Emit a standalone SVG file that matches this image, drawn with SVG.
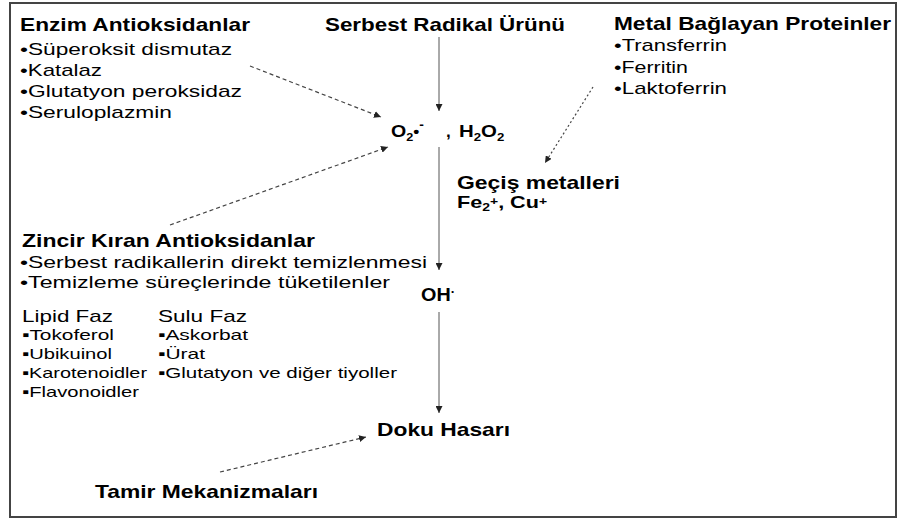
<svg xmlns="http://www.w3.org/2000/svg" width="897" height="521" viewBox="0 0 897 521">
<style>
text{font-family:"Liberation Sans",Arial,sans-serif;fill:#000}
.h{font-weight:bold;font-size:19px}
.t{font-size:17px}
.s{font-size:15px}
.c{stroke:#555;stroke-width:1;fill:none}
.d{stroke:#444;stroke-width:1.2;fill:none;stroke-dasharray:4 3}
.o{stroke:#444;stroke-width:1.2;fill:none;stroke-dasharray:2 2.5}
</style>
<defs>
<marker id="ah" viewBox="0 0 10 10" refX="10" refY="5" markerWidth="7" markerHeight="7" markerUnits="userSpaceOnUse" orient="auto">
<path d="M0,0 L10,5 L0,10 z" fill="#222"/>
</marker>
</defs>
<rect x="10" y="3" width="886" height="514" fill="#fff" stroke="#444" stroke-width="2"/>
<g id="connectors">
<line class="c" x1="439" y1="37" x2="439" y2="111" marker-end="url(#ah)"/>
<line class="c" x1="439" y1="147" x2="439" y2="270" marker-end="url(#ah)"/>
<line class="c" x1="439" y1="312" x2="439" y2="413" marker-end="url(#ah)"/>
<line class="d" x1="250" y1="66" x2="381" y2="117" marker-end="url(#ah)"/>
<line class="d" x1="170" y1="225" x2="388" y2="147" marker-end="url(#ah)"/>
<line class="o" x1="593" y1="87" x2="545" y2="163" marker-end="url(#ah)"/>
<line class="d" x1="220" y1="472" x2="366" y2="437" marker-end="url(#ah)"/>
</g>
<g id="enzim">
<text class="h" x="20" y="31" textLength="230" lengthAdjust="spacingAndGlyphs">Enzim Antioksidanlar</text>
<text class="t" x="20" y="55" textLength="212" lengthAdjust="spacingAndGlyphs">•Süperoksit dismutaz</text>
<text class="t" x="20" y="76" textLength="82" lengthAdjust="spacingAndGlyphs">•Katalaz</text>
<text class="t" x="20" y="97" textLength="222" lengthAdjust="spacingAndGlyphs">•Glutatyon peroksidaz</text>
<text class="t" x="20" y="118" textLength="152" lengthAdjust="spacingAndGlyphs">•Seruloplazmin</text>
</g>
<g id="serbest">
<text class="h" x="325" y="31" textLength="240" lengthAdjust="spacingAndGlyphs">Serbest Radikal Ürünü</text>
</g>
<g id="metal">
<text class="h" x="614" y="30" textLength="277" lengthAdjust="spacingAndGlyphs">Metal Bağlayan Proteinler</text>
<text class="t" x="614" y="51" textLength="113" lengthAdjust="spacingAndGlyphs">•Transferrin</text>
<text class="t" x="614" y="73" textLength="74" lengthAdjust="spacingAndGlyphs">•Ferritin</text>
<text class="t" x="614" y="94" textLength="113" lengthAdjust="spacingAndGlyphs">•Laktoferrin</text>
</g>
<g id="ros">
<text class="h" transform="translate(391,137) scale(1.15,1)" x="0" y="0" style="font-size:17px">O<tspan style="font-size:11px" dy="4">2</tspan><tspan style="font-size:15px" dy="-4">•</tspan><tspan style="font-size:12px" dy="-8">-</tspan></text>
<text class="h" x="446" y="137" style="font-size:17px">,</text>
<text class="h" transform="translate(459,137) scale(1.2,1)" x="0" y="0" style="font-size:17px">H<tspan style="font-size:11px" dy="4">2</tspan><tspan dy="-4">O</tspan><tspan style="font-size:11px" dy="4">2</tspan></text>
</g>
<g id="gecis">
<text class="h" x="457" y="189" textLength="163" lengthAdjust="spacingAndGlyphs">Geçiş metalleri</text>
<text class="h" transform="translate(457,208) scale(1.27,1)" x="0" y="0" style="font-size:17px">Fe<tspan style="font-size:11px" dy="3">2</tspan><tspan style="font-size:11px" dy="-6">+</tspan><tspan dy="3">, Cu</tspan><tspan style="font-size:11px" dy="-3">+</tspan></text>
</g>
<g id="zincir">
<text class="h" x="22" y="247" textLength="293" lengthAdjust="spacingAndGlyphs">Zincir Kıran Antioksidanlar</text>
<text class="t" x="20" y="268" textLength="407" lengthAdjust="spacingAndGlyphs">•Serbest radikallerin direkt temizlenmesi</text>
<text class="t" x="20" y="288" textLength="370" lengthAdjust="spacingAndGlyphs">•Temizleme süreçlerinde tüketilenler</text>
<text class="t" x="22" y="322" textLength="91" lengthAdjust="spacingAndGlyphs">Lipid Faz</text>
<text class="s" x="22" y="340" textLength="92" lengthAdjust="spacingAndGlyphs">▪Tokoferol</text>
<text class="s" x="22" y="359" textLength="90" lengthAdjust="spacingAndGlyphs">▪Ubikuinol</text>
<text class="s" x="22" y="378" textLength="125" lengthAdjust="spacingAndGlyphs">▪Karotenoidler</text>
<text class="s" x="22" y="397" textLength="117" lengthAdjust="spacingAndGlyphs">▪Flavonoidler</text>
<text class="t" x="158" y="322" textLength="89" lengthAdjust="spacingAndGlyphs">Sulu Faz</text>
<text class="s" x="158" y="340" textLength="90" lengthAdjust="spacingAndGlyphs">▪Askorbat</text>
<text class="s" x="158" y="359" textLength="47" lengthAdjust="spacingAndGlyphs">▪Ürat</text>
<text class="s" x="158" y="378" textLength="239" lengthAdjust="spacingAndGlyphs">▪Glutatyon ve diğer tiyoller</text>
</g>
<g id="oh">
<text class="h" transform="translate(421,301) scale(1.1,1)" x="0" y="0" style="font-size:18px">OH<tspan style="font-size:12px" dy="-5">·</tspan></text>
</g>
<g id="doku">
<text class="h" x="377" y="436" textLength="133" lengthAdjust="spacingAndGlyphs">Doku Hasarı</text>
</g>
<g id="tamir">
<text class="h" x="95" y="498" textLength="223" lengthAdjust="spacingAndGlyphs">Tamir Mekanizmaları</text>
</g>
</svg>
